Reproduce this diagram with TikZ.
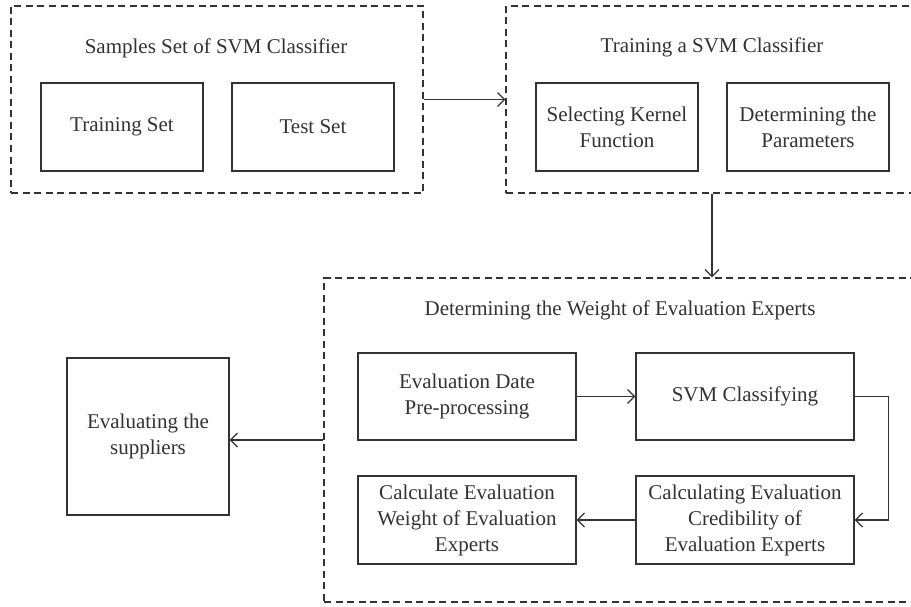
\documentclass[tikz,border=0pt]{standalone}
\usepackage{fontspec}
\setmainfont{Liberation Serif}
\usetikzlibrary{arrows.meta}
\definecolor{ink}{HTML}{333333}
\tikzset{
  stage/.style={draw=ink, line width=1.2pt, dash pattern=on 7pt off 4.5pt, inner sep=0pt},
  stepbox/.style={draw=ink, line width=1.3pt, inner sep=2pt, align=center, text=ink,
    font=\fontsize{21}{26}\selectfont},
  heading/.style={inner sep=0pt, text=ink, font=\fontsize{21}{26}\selectfont},
  flow/.style={draw=ink, line width=1.2pt, -{Straight Barb[length=7pt,width=14pt]}},
}
\begin{document}
\begin{tikzpicture}[x=1pt, y=-1pt]
  \clip (0,0) rectangle (911,607);
  \fill[white] (0,0) rectangle (911,607);

  % dashed stage frames
  \node[stage, minimum width=412pt, minimum height=187pt] (samples) at (217,99.5) {};
  \node[stage, minimum width=424pt, minimum height=187pt] (training) at (718,99.5) {};
  \node[stage, minimum width=606pt, minimum height=324pt] (weights) at (627,440) {};

  % stage headings
  \node[heading] (t1) at (216,48) {Samples Set of SVM Classifier};
  \node[heading] (t2) at (712,47) {Training a SVM Classifier};
  \node[heading] (t3) at (620,310) {Determining the Weight of Evaluation Experts};

  % boxes of the first stage
  \node[stepbox, minimum width=162pt, minimum height=88pt] (trainset) at (122,127) {Training Set};
  \node[stepbox, minimum width=162pt, minimum height=88pt] (testset) at (313,127) {Test Set};

  % boxes of the second stage
  \node[stepbox, minimum width=162pt, minimum height=88pt] (kernel) at (617,127) {Selecting Kernel\\Function};
  \node[stepbox, minimum width=162pt, minimum height=88pt] (params) at (808,127) {Determining the\\Parameters};

  % boxes of the third stage
  \node[stepbox, minimum width=218pt, minimum height=87pt] (prep) at (467,396.5) {Evaluation Date\\Pre-processing};
  \node[stepbox, minimum width=218pt, minimum height=87pt] (classify) at (745,396.5) {SVM Classifying};
  \node[stepbox, minimum width=218pt, minimum height=88pt] (calcw) at (467,520) {Calculate Evaluation\\Weight of Evaluation\\Experts};
  \node[stepbox, minimum width=218pt, minimum height=88pt] (cred) at (745,520) {Calculating Evaluation\\Credibility of\\Evaluation Experts};

  % final step
  \node[stepbox, minimum width=162pt, minimum height=157pt] (suppliers) at (148,436.5) {Evaluating the\\suppliers};

  % connectors
  \draw[flow] (samples.east) -- (training.west);
  \draw[flow] (t2 |- training.south) -- (t2 |- weights.north);
  \draw[flow] (prep) -- (classify);
  \draw[flow] (classify.east) -- ++(34,0) |- (cred.east);
  \draw[flow] (cred) -- (calcw);
  \draw[flow] (weights.west) -- (suppliers.east |- weights.west);
\end{tikzpicture}
\end{document}
